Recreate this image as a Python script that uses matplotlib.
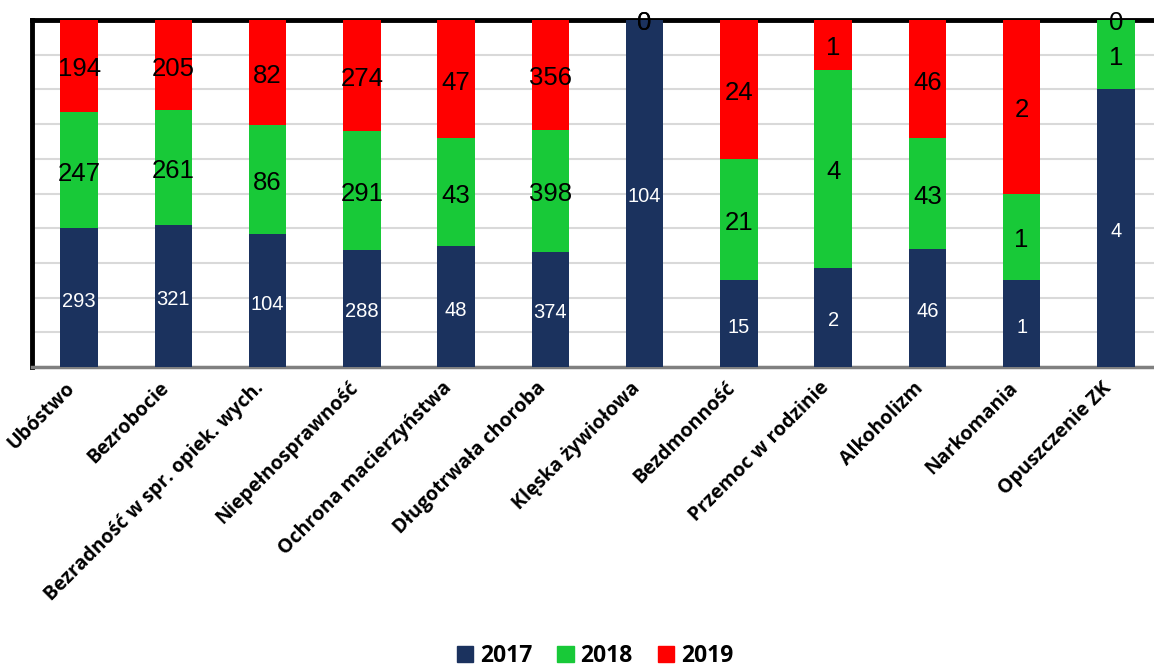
import matplotlib
matplotlib.use("Agg")
import matplotlib.pyplot as plt
import numpy as np
from matplotlib.patches import Patch

categories = ["Ubóstwo", "Bezrobocie", "Bezradność w spr. opiek. wych.", "Niepełnosprawność",
              "Ochrona macierzyństwa", "Długotrwała choroba", "Klęska żywiołowa", "Bezdmonność",
              "Przemoc w rodzinie", "Alkoholizm", "Narkomania", "Opuszczenie ZK"]
v2017 = [293, 321, 104, 288, 48, 374, 104, 15, 2, 46, 1, 4]
v2018 = [247, 261, 86, 291, 43, 398, 0, 21, 4, 43, 1, 1]
v2019 = [194, 205, 82, 274, 47, 356, 0, 24, 1, 46, 2, 0]
years = ["2017", "2018", "2019"]
colors = ["#1B325E", "#18C938", "#FF0000"]

series = [np.array(v2017, float), np.array(v2018, float), np.array(v2019, float)]
total = series[0] + series[1] + series[2]

fig = plt.figure(figsize=(11.54, 6.67), dpi=100)
ax = fig.add_axes([32/1154, 1-367/667, (1163-32)/1154, (367-20)/667])

x = np.arange(len(categories))
bottom = np.zeros(len(categories))
for i, (s, c) in enumerate(zip(series, colors)):
    frac = s / total
    bars = ax.bar(x, frac, 0.4, bottom=bottom, color=c, zorder=3)
    if i == 0:
        anns = ax.bar_label(bars, labels=[str(int(v)) for v in s], label_type='center',
                            color='white', fontsize=14.5, family='Liberation Sans', zorder=4)
    else:
        anns = ax.bar_label(bars, labels=[str(int(v)) for v in s], label_type='center',
                            color='black', fontsize=18.5, family='Liberation Sans', zorder=4)
    for a in anns:
        a.xyann = (0, -2.5)
    bottom += frac

ax.set_xlim(-0.5, len(categories) - 0.5)
ax.set_ylim(0, 1)
ax.set_yticks(np.arange(0, 1.01, 0.1))
ax.set_yticklabels([])
ax.tick_params(axis='y', length=0)
ax.tick_params(axis='x', length=0, pad=8)
ax.grid(axis='y', color='#D9D9D9', lw=1.5, zorder=0)
ax.set_xticks(x)
ax.set_xticklabels(categories, rotation=45, ha='right', va='top',
                   fontsize=14, fontweight='bold', family='Open Sans')

for side in ['left', 'top']:
    ax.spines[side].set_color('black')
    ax.spines[side].set_linewidth(3.5)
ax.spines['right'].set_visible(False)
ax.spines['bottom'].set_color('#808080')
ax.spines['bottom'].set_linewidth(2.5)

handles = [Patch(color=c, label=y) for c, y in zip(colors, years)]
fig.legend(handles=handles, loc='center', bbox_to_anchor=(595/1154, 1-656/667), ncol=3,
           frameon=False, prop={'family': 'Open Sans', 'weight': 'bold', 'size': 16.5},
           handlelength=0.7, handleheight=0.7, handletextpad=0.3, columnspacing=1.1,
           borderaxespad=0, borderpad=0.1)

fig.savefig("out.png", dpi=100)
